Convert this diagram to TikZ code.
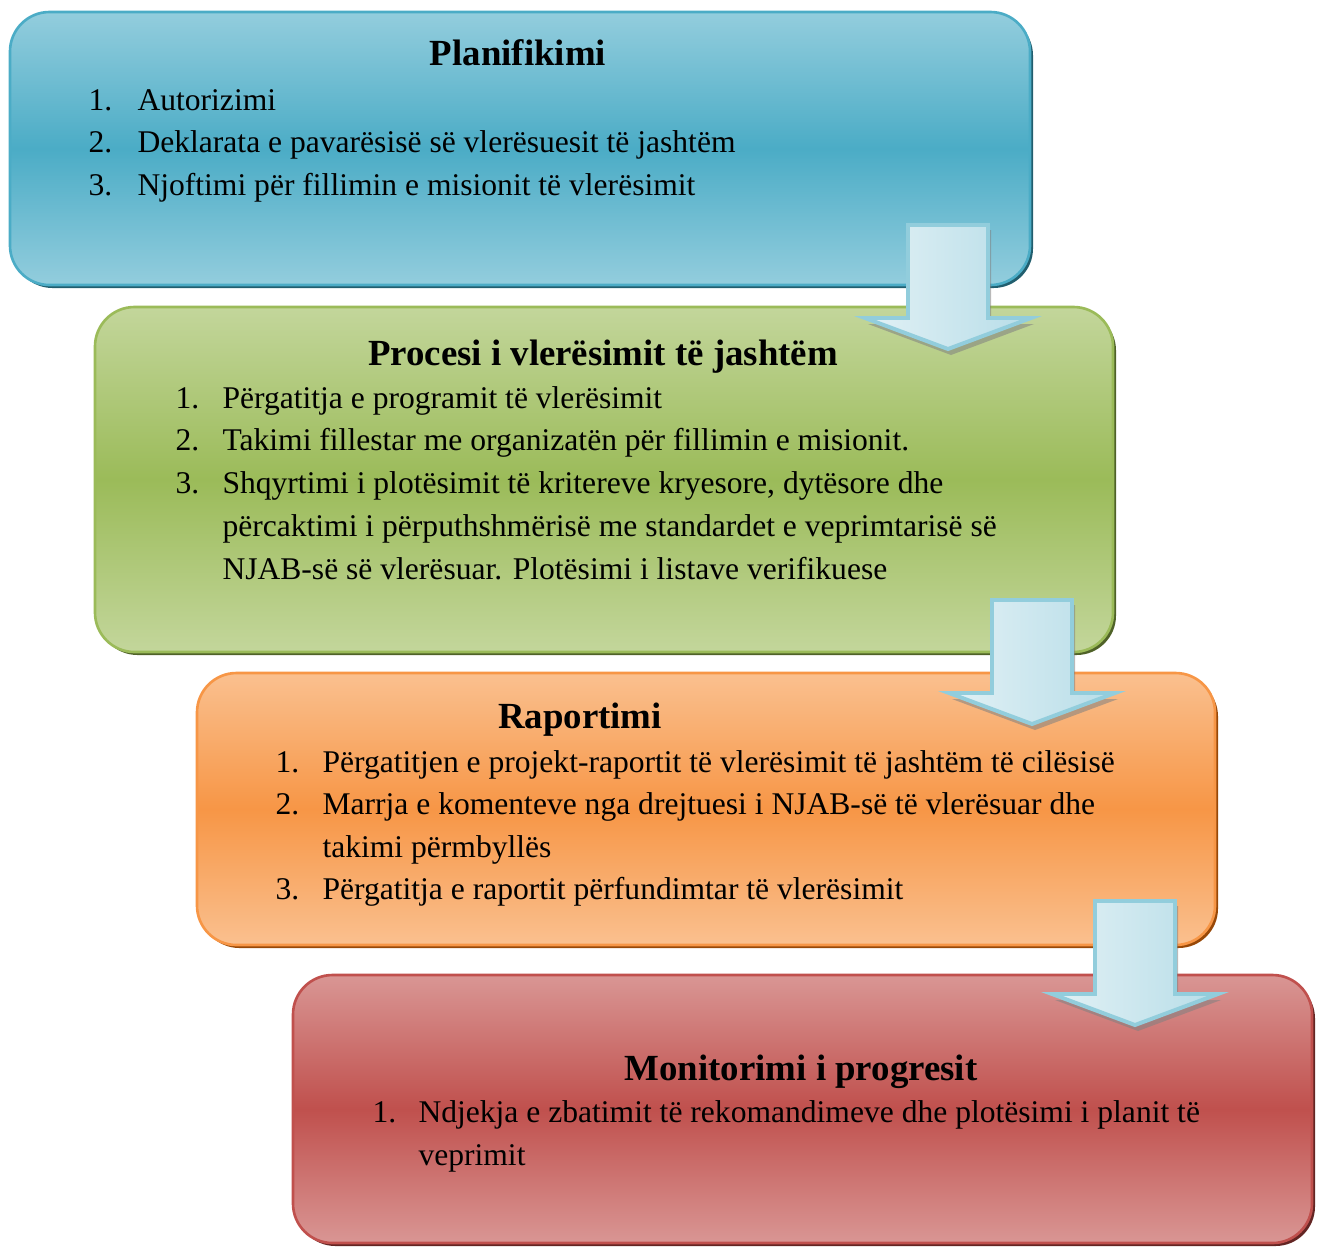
\documentclass[tikz,border=0pt]{standalone}
\usepackage{fontspec}
\setmainfont{Liberation Serif}
\usetikzlibrary{calc}
\definecolor{bluelight}{HTML}{93CDDD}
\definecolor{bluemid}{HTML}{4BACC6}
\definecolor{bluedark}{HTML}{215E6E}
\definecolor{greenlight}{HTML}{C3D69B}
\definecolor{greenmid}{HTML}{9BBB59}
\definecolor{greendark}{HTML}{4F6228}
\definecolor{orangelight}{HTML}{FAC08F}
\definecolor{orangemid}{HTML}{F79646}
\definecolor{orangedark}{HTML}{984807}
\definecolor{redlight}{HTML}{D99694}
\definecolor{redmid}{HTML}{C0504D}
\definecolor{reddark}{HTML}{632523}
\definecolor{arrowlight}{HTML}{E2F1F5}
\definecolor{arrowmid}{HTML}{B7DDE8}
\definecolor{arrowrim}{HTML}{92CDDC}

\begin{document}
\begin{tikzpicture}[x=0.38pt,y=-0.38pt,
  title/.style={font=\fontsize{14}{16}\selectfont\bfseries, inner sep=0pt, anchor=base},
  num/.style={font=\fontsize{12}{16.2}\selectfont, inner sep=0pt, anchor=base west},
  item/.style={font=\fontsize{12}{16.2}\selectfont, inner sep=0pt, anchor=base west, align=left}]

  \useasboundingbox (0,0) rectangle (1320,1246);

  % the four stages
  \foreach \xa/\ya/\xb/\yb/\c in {10/12/1030/285/blue, 95/307/1113/652/green,
      197/673/1215/945/orange, 293/975/1312/1243/red}{
    \fill [\c dark, rounded corners=15pt] (\xa+3,\ya+4) rectangle (\xb+3,\yb+3);
    \draw [\c mid, line width=1pt, rounded corners=15pt, top color=\c light,
      bottom color=\c light, middle color=\c mid] (\xa,\ya) rectangle (\xb,\yb);
  }

  % block arrows between the stages
  \foreach \x/\y in {948/225, 1032/600, 1135/901}{
    \begin{scope}[shift={(\x,\y)}]
      \fill [gray, opacity=.55] (-37,99) -- (-80,99) -- (3,130) -- (86,99) -- (43,99) -- (43,5) -- (40,5) -- (40,93) -- (83,93) -- (0,124) -- (-83,93) -- cycle;
      \draw [arrowrim, line width=1.5pt, left color=arrowlight, right color=arrowmid]
        (-40,0) -- (40,0) -- (40,93) -- (83,93) -- (0,124) -- (-83,93) -- (-40,93) -- cycle;
    \end{scope}
  }

  % Planifikimi
  \node [title] (plan-t) at (518,65) {Planifikimi};
  \node [num] (plan-n1) at (88,110) {1.};
  \node [item] (plan-1) at (137,110) {Autorizimi};
  \node [num] (plan-n2) at (88,152) {2.};
  \node [item] (plan-2) at (137,152) {Deklarata e pavarësisë së vlerësuesit të jashtëm};
  \node [num] (plan-n3) at (88,195) {3.};
  \node [item] (plan-3) at (137,195) {Njoftimi për fillimin e misionit të vlerësimit};

  % Procesi (multi-line items sit on their last baseline)
  \node [title] (proc-t) at (603,365) {Procesi i vlerësimit të jashtëm};
  \node [num] (proc-n1) at (175,408) {1.};
  \node [item] (proc-1) at (222,408) {Përgatitja e programit të vlerësimit};
  \node [num] (proc-n2) at (175,450) {2.};
  \node [item] (proc-2) at (222,450) {Takimi fillestar me organizatën për fillimin e misionit.};
  \node [num] (proc-n3) at (175,493) {3.};
  \node [item] (proc-3) at (222,579) {Shqyrtimi i plotësimit të kritereve kryesore, dytësore dhe\\
    përcaktimi i përputhshmërisë me standardet e veprimtarisë së\\
    NJAB-së së vlerësuar. Plotësimi i listave verifikuese};

  % Raportimi
  \node [title] (rap-t) at (580,728) {Raportimi};
  \node [num] (rap-n1) at (275,772) {1.};
  \node [item] (rap-1) at (322,772) {Përgatitjen e projekt-raportit të vlerësimit të jashtëm të cilësisë};
  \node [num] (rap-n2) at (275,814) {2.};
  \node [item] (rap-2) at (322,857) {Marrja e komenteve nga drejtuesi i NJAB-së të vlerësuar dhe\\
    takimi përmbyllës};
  \node [num] (rap-n3) at (275,899) {3.};
  \node [item] (rap-3) at (322,899) {Përgatitja e raportit përfundimtar të vlerësimit};

  % Monitorimi
  \node [title] (mon-t) at (801,1080) {Monitorimi i progresit};
  \node [num] (mon-n1) at (372,1122) {1.};
  \node [item] (mon-1) at (418,1165) {Ndjekja e zbatimit të rekomandimeve dhe plotësimi i planit të\\
    veprimit};

\end{tikzpicture}
\end{document}
